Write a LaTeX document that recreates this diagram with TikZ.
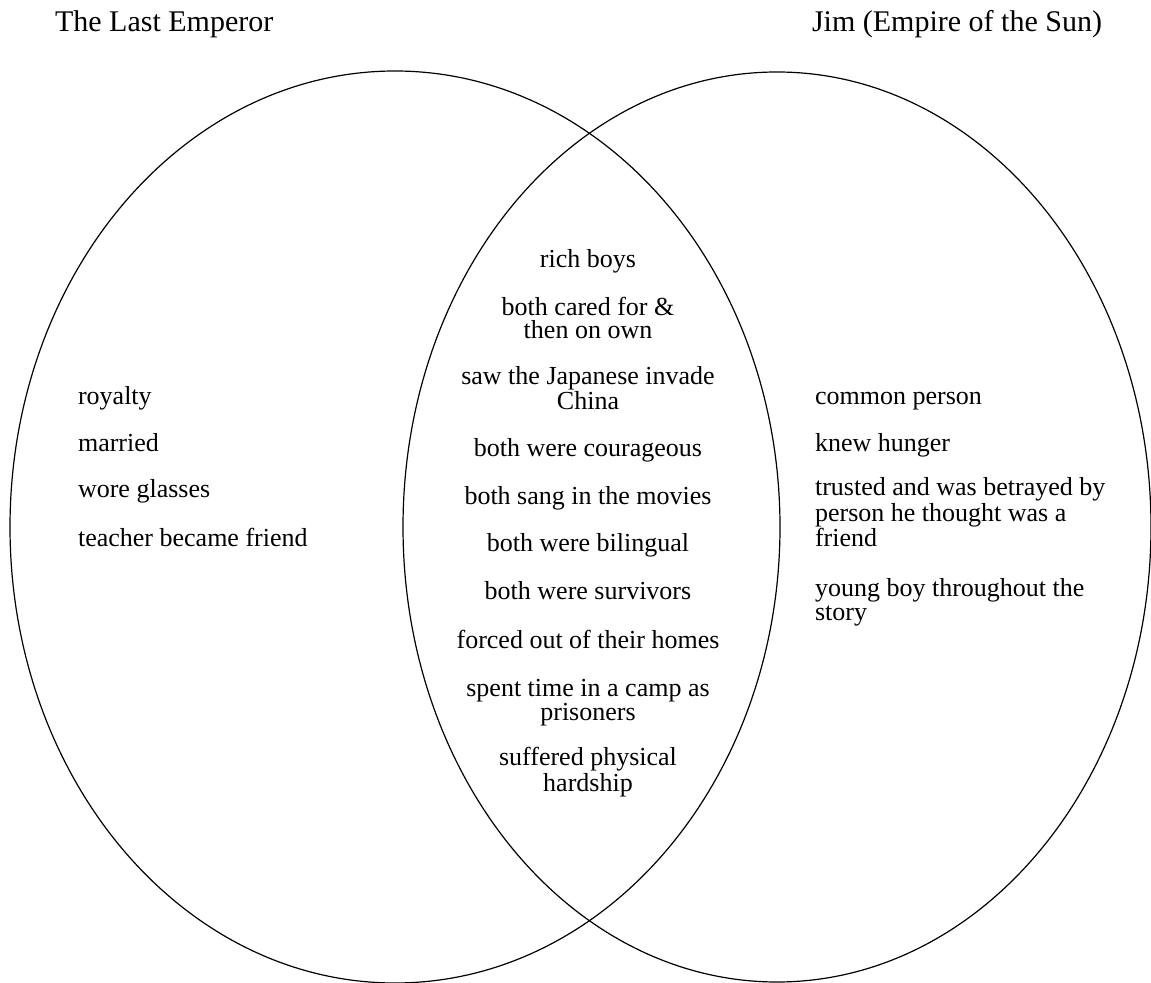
\documentclass[tikz,border=0pt]{standalone}
\usepackage{fontspec}
\setmainfont{Liberation Serif}
\begin{document}
\begin{tikzpicture}
[x=0.5pt,y=-0.5pt,
 title/.style={anchor=base west,font=\fontsize{15}{18}\selectfont},
 item/.style={anchor=base west,align=left,font=\fontsize{13}{11.75}\selectfont},
 shared/.style={anchor=base,align=center,font=\fontsize{13}{11.75}\selectfont}]
\useasboundingbox (0,0) rectangle (1151,983);

\draw[line width=0.6pt] (395,527) ellipse [x radius=385,y radius=456];
\draw[line width=0.6pt] (777,527) ellipse [x radius=374,y radius=455];

\node[title] (emperor) at (48,32) {The Last Emperor};
\node[title] (jim) at (805,32) {Jim (Empire of the Sun)};

% left only
\node[item] (royalty) at (71,405) {royalty};
\node[item] (married) at (71,452) {married};
\node[item] (glasses) at (71,498) {wore glasses};
\node[item] (teacher) at (71,547) {teacher became friend};

% both (multi-line nodes sit on their last line)
\node[shared] (rich) at (588,268) {rich boys};
\node[shared] (cared) at (588,339) {both cared for \&\\then on own};
\node[shared] (invade) at (588,410) {saw the Japanese invade\\China};
\node[shared] (courage) at (588,457) {both were courageous};
\node[shared] (sang) at (588,505) {both sang in the movies};
\node[shared] (bilingual) at (588,552) {both were bilingual};
\node[shared] (survivors) at (588,600) {both were survivors};
\node[shared] (homes) at (588,648) {forced out of their homes};
\node[shared] (camp) at (588,720) {spent time in a camp as\\prisoners};
\node[shared] (hardship) at (588,791) {suffered physical\\hardship};

% right only
\node[item] (common) at (808,405) {common person};
\node[item] (hunger) at (808,452) {knew hunger};
\node[item] (trusted) at (808,547) {trusted and was betrayed by\\person he thought was a\\friend};
\node[item] (young) at (808,620) {young boy throughout the\\story};
\end{tikzpicture}
\end{document}
